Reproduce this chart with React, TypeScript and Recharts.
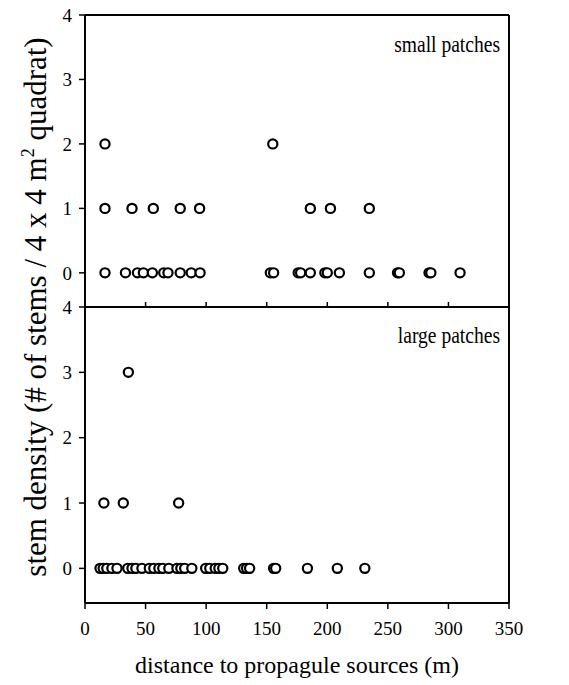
import React from "react";
import { ScatterChart, Scatter, XAxis, YAxis, ReferenceLine, Label } from "recharts";

const xTicks = [0, 50, 100, 150, 200, 250, 300, 350];
const yTicks = [0, 1, 2, 3, 4];

// small patches
const smallDist = [
  16.5, 155,
  16.5, 38.8, 56.4, 78.6, 94.6, 186, 202.6, 234.7,
  16.5, 33.4, 43.3, 48.2, 55.6, 65, 68.5, 78.6, 87.7, 95, 153, 155.7, 176, 178,
  186, 198, 200, 210, 234.7, 258, 259.5, 284, 285.5, 309.6,
];
const smallDensity = [
  2, 2,
  1, 1, 1, 1, 1, 1, 1, 1,
  0, 0, 0, 0, 0, 0, 0, 0, 0, 0, 0, 0, 0, 0,
  0, 0, 0, 0, 0, 0, 0, 0, 0, 0,
];

// large patches
const largeDist = [
  35.8,
  15.6, 31.6, 77.3,
  12.4, 15, 18, 22.2, 26.4, 35.3, 38.8, 42, 47, 53.1, 56.8, 61, 64.2, 69.2, 75.9,
  79.1, 82.3, 88.2, 99.6, 103, 107.5, 110.5, 113.7, 131, 133.4, 135.9, 155.7,
  157.4, 183.6, 208.3, 231,
];
const largeDensity = [
  3,
  1, 1, 1,
  0, 0, 0, 0, 0, 0, 0, 0, 0, 0, 0, 0, 0, 0, 0,
  0, 0, 0, 0, 0, 0, 0, 0, 0, 0, 0, 0,
  0, 0, 0, 0,
];

const toPoints = (xs: number[], ys: number[]) => xs.map((x, i) => ({ x, y: ys[i] }));

const serif = "Liberation Serif, Times New Roman, serif";
const tickStyle = { fontSize: 19, fill: "#000", fontFamily: serif };

const Ring = (props: any) => (
  <circle cx={props.cx} cy={props.cy} r={4.6} fill="#fff" stroke="#000" strokeWidth={2.2} />
);
const NoLabel = () => <g />;

function Panel({ data, top }: { data: { x: number; y: number }[]; top: boolean }) {
  return (
    <ScatterChart
      width={569}
      height={top ? 309 : 393}
      margin={{ top: 15, right: 60, bottom: top ? 2 : 0, left: 0 }}
    >
      {top ? (
        // ticks of the upper panel sit on its bottom edge, pointing inwards
        <XAxis
          type="number"
          dataKey="x"
          domain={[0, 350]}
          ticks={xTicks}
          tick={NoLabel}
          mirror
          tickSize={5}
          height={1}
          axisLine={{ stroke: "#000", strokeWidth: 2 }}
          tickLine={{ stroke: "#000", strokeWidth: 1.5 }}
        />
      ) : (
        <XAxis
          type="number"
          dataKey="x"
          domain={[0, 350]}
          ticks={xTicks}
          tick={tickStyle}
          tickSize={6}
          tickMargin={13}
          height={82}
          axisLine={{ stroke: "#000", strokeWidth: 2 }}
          tickLine={{ stroke: "#000", strokeWidth: 1.5 }}
        >
          <Label
            value="distance to propagule sources (m)"
            position="insideBottom"
            offset={12}
            fontSize={24}
            fontFamily={serif}
            fill="#000"
          />
        </XAxis>
      )}
      <YAxis
        type="number"
        dataKey="y"
        domain={[-0.53, 4]}
        ticks={yTicks}
        width={85}
        tick={tickStyle}
        tickSize={6}
        tickMargin={7}
        axisLine={{ stroke: "#000", strokeWidth: 2 }}
        tickLine={{ stroke: "#000", strokeWidth: 1.5 }}
      />
      {top && <ReferenceLine y={4} stroke="#000" strokeWidth={2} />}
      <ReferenceLine x={350} stroke="#000" strokeWidth={2} />
      <Scatter data={data} shape={Ring} isAnimationActive={false} />
    </ScatterChart>
  );
}

export default function App() {
  return (
    <div style={{ position: "absolute", left: 0, top: 0, width: 569, height: 685, background: "#fff" }}>
      <div style={{ position: "absolute", left: 0, top: 0 }}>
        <Panel data={toPoints(smallDist, smallDensity)} top={true} />
      </div>
      <div style={{ position: "absolute", left: 0, top: 292 }}>
        <Panel data={toPoints(largeDist, largeDensity)} top={false} />
      </div>
      <svg
        width={569}
        height={685}
        style={{ position: "absolute", left: 0, top: 0, pointerEvents: "none", fontFamily: serif }}
        fill="#000"
      >
        <text transform="translate(46, 307) rotate(-90)" textAnchor="middle" fontSize={31}>
          stem density (# of stems / 4 x 4 m
          <tspan dy={-12} fontSize={18}>2</tspan>
          <tspan dy={12}> quadrat)</tspan>
        </text>
        <text transform="translate(500, 52) scale(0.85, 1)" textAnchor="end" fontSize={23}>
          small patches
        </text>
        <text transform="translate(500, 343) scale(0.85, 1)" textAnchor="end" fontSize={23}>
          large patches
        </text>
      </svg>
    </div>
  );
}
